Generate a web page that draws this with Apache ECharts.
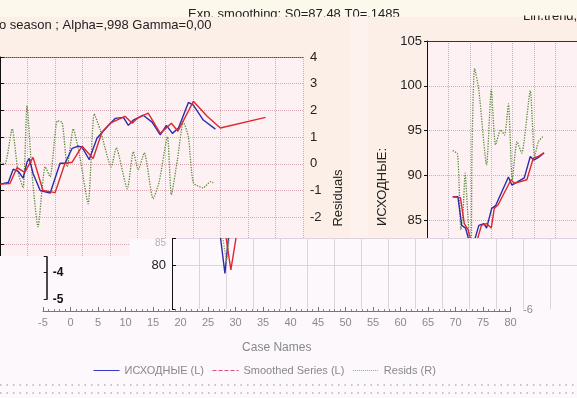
<!DOCTYPE html>
<html>
<head>
<meta charset="utf-8">
<title>Exp. smoothing</title>
<script src="https://cdn.jsdelivr.net/npm/echarts@6/dist/echarts.min.js"></script>
<style>
  html, body { margin: 0; padding: 0; background: #fdf8fb; }
  #chart { width: 577px; height: 398px; }
</style>
</head>
<body>
<div id="chart"></div>
<script>
// texts
const titleText = "Exp. smoothing: S0=87,48 T0=,1485";
const subtitleText = "o season ; Alpha=,998 Gamma=0,00";
const rightTitleText = "Lin.trend,";
const seriesNames = ["ИСХОДНЫЕ (L)", "Smoothed Series (L)", "Resids (R)"];
const caseAxisName = "Case Names";

// axis ranges [min, max, interval]
const leftCaseRange = [0, 55, 5];
const leftResidRange = [-4, 4, 1];
const leftSourceRange = [70, 110];
const rightCaseRange = [0, 35, 5];
const rightSourceRange = [80, 105, 5];
const rightResidRange = [-6, 4];
const vCaseRange = [0, 75, 5];
const vSourceRange = [70, 86, 10];
const vLevelRange = [50, 86, 30]; // only the 80 grid line of the bottom window shows
const smallResidRange = [-5, -3.4, 1];
const caseNamesRange = [-5, 80, 5];

// left window: [case, value]
const leftSource = [[0,86.2],[1.5,86.5],[2.4,89.0],[3.3,88.6],[4.2,87.3],[4.9,90.3],[5.3,91.0],[6.0,88.2],[7.3,85.0],[9.1,84.5],[10.9,90.1],[11.8,90.1],[13.1,92.9],[14.2,93.3],[14.9,93.1],[16.2,90.8],[17.6,94.8],[19.5,97.0],[20.9,98.5],[22.4,98.7],[23.3,97.2],[24.2,98.2],[26.0,99.1],[27.6,97.8],[29.1,95.4],[30.2,97.2],[31.3,95.7],[32.4,96.7],[34.2,101.5],[35.1,101.0],[36.9,98.2],[39.1,96.5]];
const leftSmoothed = [[0,86.2],[1.8,86.3],[3.1,89.3],[4.5,88.4],[6.0,91.2],[7.8,85.0],[10.0,84.6],[11.8,90.1],[13.1,90.3],[14.9,93.3],[16.9,91.0],[18.5,95.9],[20.0,97.6],[22.7,98.9],[24.0,97.6],[24.9,98.5],[26.9,99.5],[29.1,95.7],[31.1,97.6],[32.3,96.1],[35.1,101.7],[37.6,98.9],[40.0,96.7],[48.2,98.7]];
const leftResids = [[0,0.04],[0.9,0],[2.2,1.31],[3.3,-0.34],[4.2,-0.9],[4.9,2.17],[5.8,-0.34],[6.9,-2.36],[8.2,-0.11],[9.1,-0.49],[10.4,1.61],[11.3,1.54],[12.2,-0.11],[13.3,1.31],[14.5,0.26],[16.0,-1.5],[17.1,1.87],[18.2,1.27],[20.2,-0.11],[21.1,0.6],[23.1,-0.94],[24.2,0.45],[25.1,-0.22],[26.2,0.41],[27.8,-1.31],[28.9,-0.67],[30.4,1.01],[31.1,-1.16],[32.2,0.15],[33.3,1.57],[34.2,1.01],[35.1,-0.71],[36.9,-0.9],[38.2,-0.67],[38.7,-0.71]];

// right window
const rightSource = [[6.0,87.6],[7.2,87.6],[8.1,84.4],[9.0,84.1],[10.4,81.6],[12.1,84.4],[13.3,84.6],[13.9,84.1],[15.1,86.3],[16.0,86.6],[19.0,89.8],[19.8,88.9],[20.9,89.2],[22.7,89.7],[24.1,92.1],[24.9,91.7],[26.0,92.0],[27.3,92.5]];
const rightSmoothed = [[6.0,87.6],[7.8,87.5],[8.7,84.6],[9.6,83.9],[10.9,81.4],[12.7,84.4],[13.9,84.6],[15.0,84.1],[15.7,86.3],[16.6,86.7],[19.6,89.5],[20.4,89.1],[23.3,89.5],[24.8,91.9],[26.0,92.1],[27.3,92.5]];
const rightResids = [[6.0,-0.9],[7.1,-1.04],[7.5,-2.5],[7.9,-4.44],[8.4,-3.68],[8.9,-1.91],[9.5,-3.69],[9.9,-4.88],[10.3,-5.9],[10.5,-0.87],[11.1,2.78],[12.1,1.81],[13.9,-1.54],[15.0,1.84],[16.0,-0.64],[17.2,0.03],[18.1,-0.2],[19.0,1.19],[19.9,-2.21],[21.0,-0.5],[22.1,-1.01],[24.1,1.78],[25.1,-1.17],[26.0,-0.5],[27.2,-0.24]];

// bottom window (only the dip is visible)
const vSource = [[8.8,88],[9.8,78.1],[10.6,88]];
const vSmoothed = [[9.8,88],[10.9,78.9],[12.1,88]];
const vResids = [[9.2,88],[10.1,80.5],[10.8,88]];

const FONT = "Liberation Sans, Arial, sans-serif";
const BLUE = "#2b2bab";
const RED = "#e0262e";
const GREEN = "#5b8a3c";
const gridPink = { color: "#d9aab4", type: "dotted", width: 1 };
const gridGray = { color: "#ddd3df", width: 1 };
const noSymbol = { color: "rgba(0,0,0,0)", borderColor: "rgba(0,0,0,0)", borderWidth: 0 };

let chart = echarts.init(document.getElementById("chart"));

function line(name, data, xi, yi, color, extra) {
  return Object.assign({
    name: name,
    type: "line",
    data: data,
    xAxisIndex: xi,
    yAxisIndex: yi,
    symbol: "none",
    lineStyle: { color: color, width: 1.4 },
    itemStyle: { color: color },
  }, extra || {});
}

const dotted = (c) => ({ lineStyle: { color: c, width: 1.3, type: "dotted" }, smooth: 0.2 });

chart.setOption({
  animation: false,
  graphic: [
    { type: "rect", shape: { x: 0, y: 0, width: 577, height: 17 }, style: { fill: "#fdf8ec" }, z: -9 },
    { type: "text", x: 188, y: 14.3, style: { text: titleText, font: "13px " + FONT, fill: "#222", textVerticalAlign: "middle" }, z: -8 },
    { type: "rect", shape: { x: 0, y: 16.8, width: 577, height: 223 }, style: { fill: "#fcefe7" }, z: -6 },
    { type: "rect", shape: { x: 350, y: 16.8, width: 18, height: 223 }, style: { fill: "#fdf2ee" }, z: -6 },
    { type: "rect", shape: { x: 0, y: 57, width: 303, height: 199 }, style: { fill: "#fdf1f3" }, z: -5 },
    { type: "rect", shape: { x: 427, y: 41, width: 150, height: 199 }, style: { fill: "#fdf1f3" }, z: -5 },
    { type: "text", x: -1, y: 25, style: { text: subtitleText, font: "13px " + FONT, fill: "#222", textVerticalAlign: "middle" }, z: -5 },
    { type: "text", x: 523, y: 16, style: { text: rightTitleText, font: "13px " + FONT, fill: "#222", textVerticalAlign: "middle" }, z: -5 },
    { type: "rect", shape: { x: 480, y: 0, width: 97, height: 15.5 }, style: { fill: "#fdf8ec" }, z: -4 },
    { type: "text", x: 338, y: 198, rotation: Math.PI / 2, style: { text: "Residuals", font: "13px " + FONT, fill: "#222", textAlign: "center", textVerticalAlign: "middle" }, z: -4 },
    { type: "text", x: 382, y: 187, rotation: Math.PI / 2, style: { text: "ИСХОДНЫЕ:", font: "13px " + FONT, fill: "#222", textAlign: "center", textVerticalAlign: "middle" }, z: -4 },
    // bottom window lies over the upper ones
    { type: "rect", shape: { x: 130, y: 239, width: 447, height: 159 }, style: { fill: "#fdf8fb" }, z: 10 },
    { type: "rect", shape: { x: 0, y: 256, width: 130, height: 142 }, style: { fill: "#fdf8fb" }, z: 10 },
    { type: "text", x: 166, y: 243, style: { text: "85", font: "10px " + FONT, fill: "#b8b0b8", textAlign: "right", textVerticalAlign: "middle" }, z: 20 },
    { type: "text", x: 523, y: 310, style: { text: "-6", font: "11px " + FONT, fill: "#8a8a8a", textVerticalAlign: "middle" }, z: 20 },
    { type: "line", shape: { x1: 0, y1: 385, x2: 577, y2: 385 }, style: { stroke: "#b8b0ba", lineWidth: 1.5, lineDash: [1.5, 5] }, z: 20 },
    { type: "line", shape: { x1: 0, y1: 393, x2: 577, y2: 393 }, style: { stroke: "#b8b0ba", lineWidth: 1.5, lineDash: [1.5, 5] }, z: 20 },
  ],
  legend: {
    left: 88,
    top: 360,
    z: 20,
    itemWidth: 26,
    itemHeight: 2,
    itemGap: 8,
    textStyle: { color: "#888", fontSize: 11, fontFamily: FONT },
    data: [
      { name: seriesNames[0], itemStyle: noSymbol, lineStyle: { color: "#3a3ac8", width: 1, type: "solid" } },
      { name: seriesNames[1], itemStyle: noSymbol, lineStyle: { color: "#e0507a", width: 1, type: "dashed" } },
      { name: seriesNames[2], itemStyle: noSymbol, lineStyle: { color: "#7cb47c", width: 1, type: "dotted" } },
    ],
  },
  grid: [
    { left: 0, top: 57, width: 303, height: 213.6 },
    { left: 427, top: 41, width: 192.5, height: 223.75 },
    { left: 172, top: 238.6, width: 412.5, height: 70.4 },
    { left: 46.7, top: 256.7, width: 60, height: 42.6 },
    { left: 43, top: 300, width: 467.5, height: 11 },
    { left: 172, top: 238.6, width: 405, height: 160 },
  ],
  xAxis: [
    {
      gridIndex: 0, type: "value", min: leftCaseRange[0], max: leftCaseRange[1], interval: leftCaseRange[2],
      axisLine: { show: false }, axisTick: { show: false }, axisLabel: { show: false },
      splitLine: { show: true, lineStyle: gridPink },
    },
    {
      gridIndex: 0, type: "value", position: "top", min: leftCaseRange[0], max: leftCaseRange[1], interval: leftCaseRange[2],
      axisLine: { show: true, lineStyle: { color: "#555", type: "dotted" } },
      axisTick: { show: false }, axisLabel: { show: false }, splitLine: { show: false },
    },
    {
      gridIndex: 1, type: "value", min: rightCaseRange[0], max: rightCaseRange[1], interval: rightCaseRange[2],
      axisLine: { show: false }, axisTick: { show: false }, axisLabel: { show: false },
      splitLine: { show: true, lineStyle: gridPink },
    },
    {
      gridIndex: 1, type: "value", position: "top", min: rightCaseRange[0], max: rightCaseRange[1], interval: rightCaseRange[2],
      axisLine: { show: true, lineStyle: { color: "#333" } },
      axisTick: { show: false }, axisLabel: { show: false }, splitLine: { show: false },
    },
    {
      gridIndex: 2, type: "value", min: vCaseRange[0], max: vCaseRange[1], interval: vCaseRange[2], z: 20,
      axisLine: { show: false }, axisTick: { show: false }, axisLabel: { show: false },
      splitLine: { show: true, lineStyle: gridGray },
    },
    { gridIndex: 3, type: "value", min: 0, max: 1, show: false },
    {
      gridIndex: 4, type: "value", min: caseNamesRange[0], max: caseNamesRange[1], interval: caseNamesRange[2], z: 20,
      name: caseAxisName, nameLocation: "middle", nameGap: 31,
      nameTextStyle: { color: "#888", fontSize: 12, fontFamily: FONT },
      axisLine: { show: true, lineStyle: { color: "#777" } },
      axisTick: { show: true, inside: true, length: 4, lineStyle: { color: "#777" } },
      minorTick: { show: true, splitNumber: 5, length: 2, lineStyle: { color: "#888" } },
      axisLabel: { color: "#8a8a8a", fontSize: 11, fontFamily: FONT, margin: 6 },
      splitLine: { show: false },
    },
    { gridIndex: 5, type: "value", min: 0, max: 1, show: false },
  ],
  yAxis: [
    { gridIndex: 0, type: "value", position: "left", min: leftSourceRange[0], max: leftSourceRange[1], show: false },
    {
      gridIndex: 0, type: "value", position: "right", min: leftResidRange[0], max: leftResidRange[1], interval: leftResidRange[2],
      axisLine: { show: true, lineStyle: { color: "#111" } },
      axisTick: { show: true, length: 4, lineStyle: { color: "#111" } },
      axisLabel: { color: "#222", fontSize: 13, fontFamily: FONT, margin: 7, formatter: (v) => (v > -3 ? String(v) : "") },
      splitLine: { show: true, lineStyle: gridPink },
    },
    {
      gridIndex: 1, type: "value", position: "left", min: rightSourceRange[0], max: rightSourceRange[1], interval: rightSourceRange[2],
      axisLine: { show: true, lineStyle: { color: "#111" } },
      axisTick: { show: true, length: 3, lineStyle: { color: "#111" } },
      axisLabel: { color: "#222", fontSize: 13, fontFamily: FONT, margin: 5 },
      splitLine: { show: true, lineStyle: gridPink },
    },
    { gridIndex: 1, type: "value", position: "right", min: rightResidRange[0], max: rightResidRange[1], show: false },
    {
      gridIndex: 2, type: "value", position: "left", min: vSourceRange[0], max: vSourceRange[1], interval: vSourceRange[2], z: 20,
      axisLine: { show: true, lineStyle: { color: "#111" } },
      axisTick: { show: true, inside: true, length: 4, lineStyle: { color: "#111" } },
      axisLabel: { color: "#222", fontSize: 13, fontFamily: FONT, margin: 6, formatter: (v) => (v === 80 ? "80" : "") },
      splitLine: { show: false },
    },
    {
      gridIndex: 3, type: "value", position: "left", min: smallResidRange[0], max: smallResidRange[1], interval: smallResidRange[2], z: 20,
      axisLine: { show: true, lineStyle: { color: "#111", width: 1.5 } },
      axisTick: { show: true, length: 3, lineStyle: { color: "#111" } },
      axisLabel: { inside: true, color: "#111", fontSize: 12, fontWeight: "bold", fontFamily: FONT, margin: 6, formatter: (v) => (Number.isInteger(v) ? String(v) : "") },
      splitLine: { show: false },
    },
    { gridIndex: 4, type: "value", min: 0, max: 1, show: false },
    {
      gridIndex: 5, type: "value", min: vLevelRange[0], max: vLevelRange[1], interval: vLevelRange[2], z: 19,
      axisLine: { show: false }, axisTick: { show: false }, axisLabel: { show: false },
      splitLine: { show: true, lineStyle: gridGray },
    },
  ],
  series: [
    line(seriesNames[2], leftResids, 0, 1, GREEN, dotted(GREEN)),
    line(seriesNames[0], leftSource, 0, 0, BLUE),
    line(seriesNames[1], leftSmoothed, 0, 0, RED),
    line(seriesNames[2], rightResids, 2, 3, GREEN, dotted(GREEN)),
    line(seriesNames[0], rightSource, 2, 2, BLUE),
    line(seriesNames[1], rightSmoothed, 2, 2, RED),
    line(seriesNames[0], vSource, 4, 4, BLUE, { z: 20 }),
    line(seriesNames[2], vResids, 4, 4, "#8aa040", { z: 20, lineStyle: { color: "#8aa040", width: 1.3, type: "dotted" } }),
    line(seriesNames[1], vSmoothed, 4, 4, RED, { z: 20 }),
  ],
});
</script>
</body>
</html>
